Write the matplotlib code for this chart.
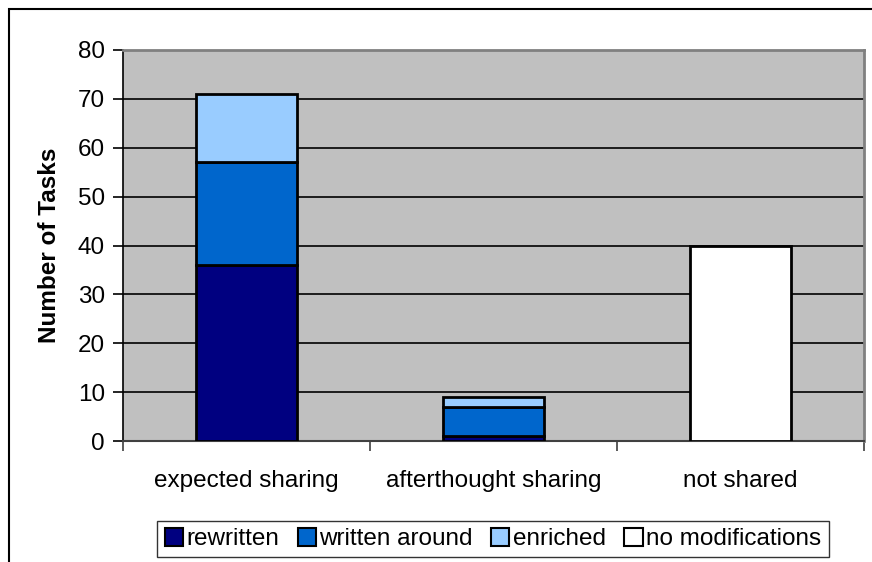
import matplotlib
matplotlib.use("Agg")
import matplotlib.pyplot as plt
from matplotlib.patches import Rectangle, Patch
import numpy as np

plt.rcParams['font.family'] = ['Liberation Sans', 'DejaVu Sans']

categories = ["expected sharing", "afterthought sharing", "not shared"]
series_names = ["rewritten", "written around", "enriched", "no modifications"]
rewritten = [36, 1, 0]
written_around = [21, 6, 0]
enriched = [14, 2, 0]
no_modifications = [0, 0, 40]
colors = ["#000080", "#0066CC", "#99CCFF", "#FFFFFF"]
yticks = [0, 10, 20, 30, 40, 50, 60, 70, 80]

W, H = 872, 562
fs = 17.5
fig = plt.figure(figsize=(W / 100, H / 100), dpi=100)
ax = fig.add_axes([123 / W, 1 - 441 / H, (864 - 123) / W, (441 - 50) / H])
ax.set_facecolor("#C0C0C0")

x = np.arange(len(categories))
bw = 0.405
bottom = np.zeros(len(categories))
for vals, col in zip([rewritten, written_around, enriched, no_modifications], colors):
    vals = np.array(vals, dtype=float)
    mask = vals > 0
    ax.bar(x[mask], vals[mask], bw, bottom=bottom[mask], color=col,
           edgecolor="black", linewidth=2, zorder=3)
    bottom += vals

ax.set_xlim(-0.5, 2.5)
ax.set_ylim(0, 80)
ax.set_yticks(yticks)
ax.yaxis.grid(True, color="black", linewidth=1.2, zorder=1)
ax.set_axisbelow(True)

ax.set_xticks(x)
ax.set_xticklabels(categories, fontsize=fs)
ax.set_xticks([-0.5, 0.5, 1.5, 2.5], minor=True)
ax.tick_params(axis="x", which="major", length=0, pad=21)
ax.tick_params(axis="x", which="minor", length=7, width=1.2, color="#404040")
ax.tick_params(axis="y", length=7, width=1.2, pad=6, labelsize=fs)

for side in ["top", "right"]:
    ax.spines[side].set_color("#808080")
    ax.spines[side].set_linewidth(2)
ax.spines["left"].set_color("black")
ax.spines["left"].set_linewidth(1.2)
ax.spines["bottom"].set_color("#404040")
ax.spines["bottom"].set_linewidth(1.5)

ax.set_ylabel("Number of Tasks", fontsize=fs, fontweight="bold", labelpad=12)

handles = [Patch(facecolor=c, edgecolor="black", linewidth=1.5) for c in colors]
leg = fig.legend(handles, series_names, loc="center", bbox_to_anchor=(493 / W, 1 - 539 / H),
                 ncol=4, fontsize=fs, frameon=True, fancybox=False,
                 edgecolor="black", handlelength=0.75, handleheight=0.75,
                 handletextpad=0.15, columnspacing=0.75, borderpad=0.3,
                 borderaxespad=0)
leg.get_frame().set_linewidth(1.0)

# chart border
fig.patches.append(Rectangle((8.5 / W, -0.1), 1.2, 1 - 8.5 / H + 0.1,
                             transform=fig.transFigure, fill=False,
                             edgecolor="black", linewidth=1.5))

fig.savefig("out.png", dpi=100)
